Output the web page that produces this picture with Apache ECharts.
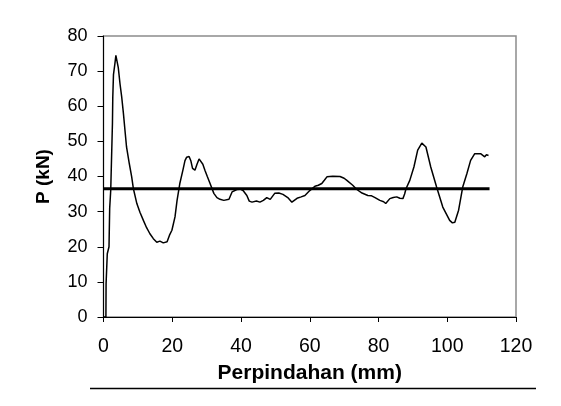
<!DOCTYPE html>
<html>
<head>
<meta charset="utf-8">
<script src="https://cdn.jsdelivr.net/npm/echarts@6/dist/echarts.min.js"></script>
<style>
  html, body { margin: 0; padding: 0; background: #fff; }
  #chart { width: 561px; height: 406px; }
</style>
</head>
<body>
<div id="chart"></div>
<script>
// Displacement (mm) and load (kN)
const dispMm = [0, 0.7, 0.75, 1.0, 1.1, 1.6, 1.8, 2.1, 2.4, 2.6, 2.7, 2.9, 3.3, 3.6, 3.8, 4.3, 4.8, 5.3, 5.8, 6.25,
  6.7, 7.5, 8.2, 8.7, 9.7, 10.6, 11.6, 12.5, 13.5, 14.5, 15.5, 16.4, 17.4, 18.5, 19.2, 19.9, 20.8, 21.4, 22.2, 23.1, 23.7,
  24.2, 24.9, 25.4, 25.9, 26.6, 27.2, 27.8, 28.3, 28.9, 29.5, 30.2, 31, 32.1, 33, 33.9, 35, 36.5, 37.4, 38.8, 39.8,
  40.6, 41.7, 42.4, 43.2, 44.5, 45.5, 46.5, 47.5, 48.5, 49.8, 51, 52.2, 53.6, 54.8, 55.6, 56.3, 57.5, 58.6, 60, 61.5,
  62.5, 63.5, 64.3, 65, 66.7, 68.8, 70, 70.8, 72.5, 73.7, 75.2, 76.9, 78, 79, 80.4, 81.5, 82.1, 83.3, 84.3, 85.3,
  86.2, 87.1, 87.6, 88, 89.1, 90.3, 91.4, 92.6, 93.8, 95.2, 96.9, 98.7, 100.7, 101.5, 102.2, 103.3, 104.5, 105.7, 106.8, 108,
  109.7, 110.9, 111.4, 112];
const loadKN = [0, 0, 9.5, 10, 18, 20, 31, 36, 47.5, 55, 62.6, 69, 72, 74.5, 74, 71, 66.4, 62.6, 57.9, 53.1,
  48.4, 43.7, 39.9, 36.5, 32.3, 29.8, 27.5, 25.5, 23.7, 22.3, 21.3, 21.6, 21.1, 21.4, 23.3, 24.7, 28.5, 33.2, 38, 41.8, 44.5,
  45.5, 45.7, 44.5, 42.3, 41.8, 43.5, 45, 45, 43.5, 41.8, 40, 38, 35.2, 34, 33.5, 33.2, 33.5, 35.6, 36.3, 36.4,
  36, 34.6, 33, 32.7, 33, 32.7, 33.2, 34, 33.5, 35.2, 35.3, 34.9, 34, 32.7, 33.3, 33.8, 34.2, 34.6, 36, 37.2,
  37.5, 38, 39, 39.9, 40.1, 40, 39.5, 38.9, 37.5, 36.3, 35.3, 34.6, 34.5, 34, 33.2, 32.8, 32.3, 33.7, 34, 34.2,
  33.8, 33.7, 35, 36.5, 38.9, 42.7, 47.5, 49.5, 48.4, 42.7, 37, 31.3, 27.5, 26.8, 27, 30.4, 37, 40.8, 44.6, 46.5,
  46.5, 45.6, 46.2, 46];

// Average load line
const avgLine = [[0, 36.5], [112.3, 36.5]];

const xTicks = [0, 20, 40, 60, 80, 100, 120];
const yTicks = [0, 10, 20, 30, 40, 50, 60, 70, 80];

const chart = echarts.init(document.getElementById('chart'));

const font = 'Liberation Sans, Arial, sans-serif';

chart.setOption({
  animation: false,
  grid: { left: 103.5, top: 36, right: 45, bottom: 89, show: true, borderColor: '#8c8c8c', borderWidth: 1.5 },
  xAxis: {
    type: 'value',
    min: xTicks[0],
    max: xTicks[xTicks.length - 1],
    interval: 20,
    name: 'Perpindahan (mm)',
    nameLocation: 'middle',
    nameGap: 46,
    nameTextStyle: { fontFamily: font, fontSize: 21, fontWeight: 'bold', color: '#000' },
    axisLine: { lineStyle: { color: '#000', width: 1 } },
    axisTick: { length: 5, lineStyle: { color: '#000' } },
    axisLabel: { margin: 20, fontFamily: font, fontSize: 19.5, color: '#000' },
    splitLine: { show: false }
  },
  yAxis: {
    type: 'value',
    min: yTicks[0],
    max: yTicks[yTicks.length - 1],
    interval: 10,
    name: 'P (kN)',
    nameLocation: 'middle',
    nameGap: 50,
    nameTextStyle: { fontFamily: font, fontSize: 19, fontWeight: 'bold', color: '#000' },
    axisLine: { show: true, lineStyle: { color: '#000', width: 1 } },
    axisTick: { show: true, length: 6, lineStyle: { color: '#000' } },
    axisLabel: { margin: 16, fontFamily: font, fontSize: 18, color: '#000' },
    splitLine: { show: false }
  },
  graphic: [{
    type: 'line',
    shape: { x1: 90, y1: 388.5, x2: 536, y2: 388.5 },
    style: { stroke: '#000', lineWidth: 1.5 }
  }],
  series: [
    {
      type: 'line',
      data: dispMm.map((x, i) => [x, loadKN[i]]),
      symbol: 'none',
      lineStyle: { color: '#000', width: 1.5 }
    },
    {
      type: 'line',
      data: avgLine,
      symbol: 'none',
      lineStyle: { color: '#000', width: 3 }
    }
  ]
});
</script>
</body>
</html>
